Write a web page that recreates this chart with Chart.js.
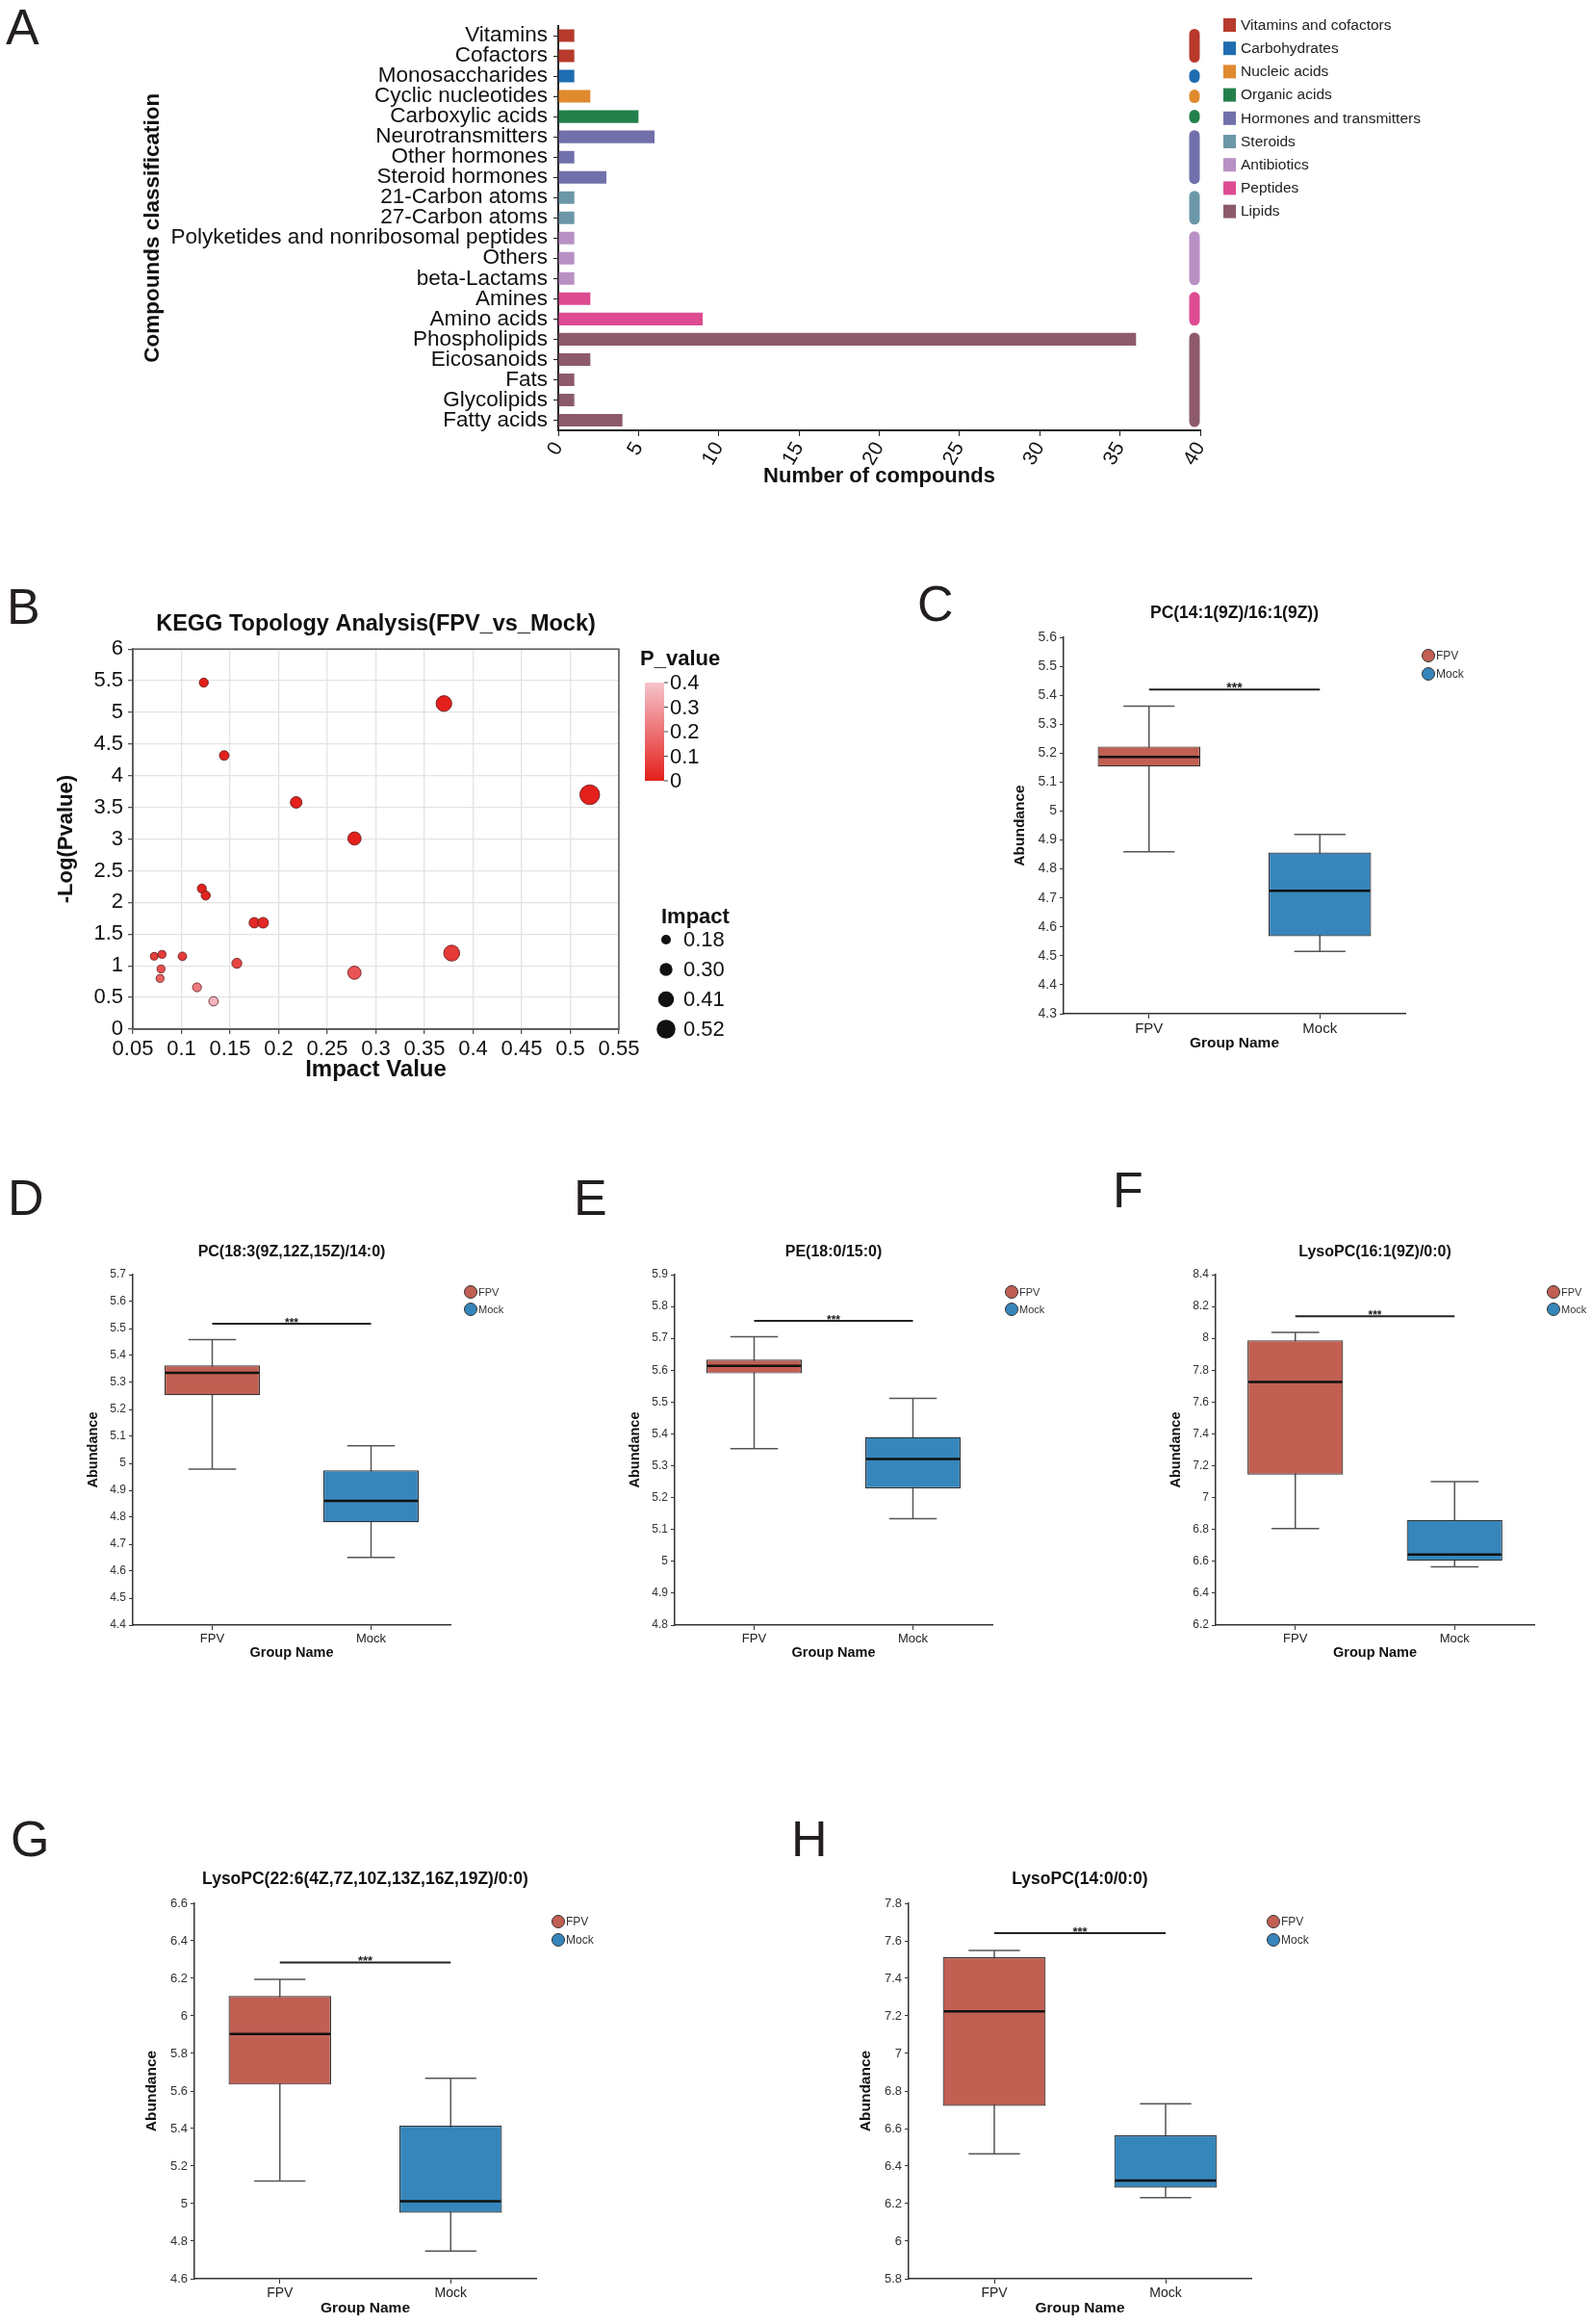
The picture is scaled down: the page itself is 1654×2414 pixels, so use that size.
<!DOCTYPE html>
<html>
<head>
<meta charset="utf-8">
<script src="https://cdn.jsdelivr.net/npm/chart.js@4.4.1/dist/chart.umd.min.js"></script>
<style>
  html, body { margin: 0; padding: 0; background: #fff; }
  #page { position: relative; width: 1654px; height: 2414px; overflow: hidden; background: #fff; }
  #page canvas { position: absolute; }
  .letter { position: absolute; font-family: 'Liberation Sans', Arial, sans-serif; font-size: 52px; line-height: 1; color: #231f20; }
</style>
</head>
<body>
<div id="page">
  <div class="letter" style="left:6px;top:2px">A</div>
  <div class="letter" style="left:7px;top:604px">B</div>
  <div class="letter" style="left:953px;top:601px">C</div>
  <div class="letter" style="left:8px;top:1218px">D</div>
  <div class="letter" style="left:596px;top:1218px">E</div>
  <div class="letter" style="left:1156px;top:1210px">F</div>
  <div class="letter" style="left:11px;top:1884px">G</div>
  <div class="letter" style="left:822px;top:1884px">H</div>

  <canvas id="chartA" width="1654" height="520" style="left:0;top:0"></canvas>
  <canvas id="chartB" width="827" height="560" style="left:0;top:590px"></canvas>
  <canvas id="chartC" width="654" height="510" style="left:1000px;top:600px"></canvas>
  <canvas id="chartD" width="560" height="480" style="left:0;top:1250px"></canvas>
  <canvas id="chartE" width="560" height="480" style="left:560px;top:1250px"></canvas>
  <canvas id="chartF" width="534" height="480" style="left:1120px;top:1250px"></canvas>
  <canvas id="chartG" width="780" height="534" style="left:0;top:1880px"></canvas>
  <canvas id="chartH" width="874" height="534" style="left:780px;top:1880px"></canvas>
</div>
<script>
const FONT = "'Liberation Sans', Arial, Helvetica, sans-serif";

// ---- panel A: compound classes
const categories = ['Vitamins', 'Cofactors', 'Monosaccharides', 'Cyclic nucleotides', 'Carboxylic acids',
  'Neurotransmitters', 'Other hormones', 'Steroid hormones', '21-Carbon atoms', '27-Carbon atoms',
  'Polyketides and nonribosomal peptides', 'Others', 'beta-Lactams', 'Amines', 'Amino acids',
  'Phospholipids', 'Eicosanoids', 'Fats', 'Glycolipids', 'Fatty acids'];
const compoundCounts = [1, 1, 1, 2, 5, 6, 1, 3, 1, 1, 1, 1, 1, 2, 9, 36, 2, 1, 1, 4];
const classNames = ['Vitamins and cofactors', 'Carbohydrates', 'Nucleic acids', 'Organic acids',
  'Hormones and transmitters', 'Steroids', 'Antibiotics', 'Peptides', 'Lipids'];
const classColors = ['#b73a2c', '#1f6db1', '#e08a2f', '#24804b', '#7270ab', '#6b97a8', '#b990c4', '#dd4b91', '#8d5a6c'];
const categoryClass = [0, 0, 1, 2, 3, 4, 4, 4, 5, 5, 6, 6, 6, 7, 7, 8, 8, 8, 8, 8];

// ---- panel B: KEGG topology
const impactValues = [0.123, 0.370, 0.144, 0.520, 0.218, 0.278, 0.121, 0.125, 0.175, 0.184,
  0.072, 0.080, 0.101, 0.079, 0.078, 0.157, 0.378, 0.278, 0.116, 0.133];
const negLogP = [5.47, 5.14, 4.32, 3.70, 3.58, 3.01, 2.22, 2.11, 1.68, 1.68,
  1.15, 1.18, 1.15, 0.95, 0.80, 1.04, 1.20, 0.89, 0.66, 0.44];
const pValues = [0.000003, 0.000007, 0.00005, 0.0002, 0.0003, 0.001, 0.006, 0.008, 0.021, 0.021,
  0.071, 0.066, 0.071, 0.112, 0.158, 0.091, 0.063, 0.129, 0.219, 0.363];
const pLegendTicks = [0.4, 0.3, 0.2, 0.1, 0];
const impactLegend = [0.18, 0.30, 0.41, 0.52];

// ---- panels C-H: box plots, stats = [min, q1, median, q3, max]
const groups = ['FPV', 'Mock'];
const groupColors = ['#c15f53', '#3686bb'];

const titleC = 'PC(14:1(9Z)/16:1(9Z))';
const fpvC = [4.859, 5.154, 5.187, 5.223, 5.362];
const mockC = [4.515, 4.568, 4.725, 4.857, 4.919];
const axisC = [4.3, 5.6, 0.1];
const sigC = 5.42;

const titleD = 'PC(18:3(9Z,12Z,15Z)/14:0)';
const fpvD = [4.979, 5.253, 5.336, 5.363, 5.459];
const mockD = [4.651, 4.781, 4.861, 4.974, 5.065];
const axisD = [4.4, 5.7, 0.1];
const sigD = 5.518;

const titleE = 'PE(18:0/15:0)';
const fpvE = [5.354, 5.590, 5.614, 5.633, 5.705];
const mockE = [5.134, 5.229, 5.321, 5.390, 5.512];
const axisE = [4.8, 5.9, 0.1];
const sigE = 5.755;

const titleF = 'LysoPC(16:1(9Z)/0:0)';
const fpvF = [6.806, 7.145, 7.726, 7.988, 8.037];
const mockF = [6.565, 6.604, 6.642, 6.860, 7.100];
const axisF = [6.2, 8.4, 0.2];
const sigF = 8.138;

const titleG = 'LysoPC(22:6(4Z,7Z,10Z,13Z,16Z,19Z)/0:0)';
const fpvG = [5.120, 5.634, 5.904, 6.106, 6.195];
const mockG = [4.747, 4.951, 5.013, 5.415, 5.668];
const axisG = [4.6, 6.6, 0.2];
const sigG = 6.285;

const titleH = 'LysoPC(14:0/0:0)';
const fpvH = [6.465, 6.721, 7.224, 7.513, 7.549];
const mockH = [6.232, 6.285, 6.323, 6.564, 6.732];
const axisH = [5.8, 7.8, 0.2];
const sigH = 7.641;

Chart.defaults.font.family = FONT;
Chart.defaults.color = '#222';
Chart.defaults.animation = false;
Chart.defaults.responsive = false;
Chart.defaults.plugins.legend.display = false;
Chart.defaults.plugins.tooltip.enabled = false;

const fmt = v => String(parseFloat(Number(v).toFixed(3)));

// ---------------- A ----------------
const classBars = {
  id: 'classBars',
  afterDatasetsDraw(chart) {
    const {ctx, scales: {x, y}} = chart;
    const cx = x.getPixelForValue(40) - 6;
    ctx.save();
    ctx.lineCap = 'round';
    ctx.lineWidth = 11;
    classNames.forEach((name, k) => {
      const idx = [];
      categoryClass.forEach((c, i) => { if (c === k) idx.push(i); });
      const y1 = y.getPixelForValue(idx[0]) - 1.5;
      const y2 = y.getPixelForValue(idx[idx.length - 1]) + 1.5;
      ctx.strokeStyle = classColors[k];
      ctx.beginPath();
      ctx.moveTo(cx, y1);
      ctx.lineTo(cx, y2);
      ctx.stroke();
    });
    // class legend
    ctx.font = '15.5px ' + FONT;
    ctx.textBaseline = 'middle';
    ctx.textAlign = 'left';
    classNames.forEach((name, k) => {
      const ly = 26 + k * 24.2;
      ctx.fillStyle = classColors[k];
      ctx.fillRect(1271, ly - 7, 13, 14);
      ctx.fillStyle = '#222';
      ctx.fillText(name, 1289, ly + 0.5);
    });
    ctx.restore();
  }
};

new Chart(document.getElementById('chartA'), {
  type: 'bar',
  data: {
    labels: categories,
    datasets: [{
      data: compoundCounts,
      backgroundColor: categoryClass.map(c => classColors[c]),
      barPercentage: 0.62,
      categoryPercentage: 1
    }]
  },
  options: {
    indexAxis: 'y',
    layout: { padding: { left: 145, top: 26.5, right: 407, bottom: 0 } },
    scales: {
      x: {
        type: 'linear', min: 0, max: 40,
        ticks: { stepSize: 5, minRotation: 60, maxRotation: 60, font: { size: 21 }, color: '#111', padding: 2 },
        grid: { drawOnChartArea: false, drawTicks: true, tickLength: 6, color: '#222', tickColor: '#222' },
        border: { color: '#222', width: 2 },
        title: { display: true, text: 'Number of compounds', font: { size: 22, weight: 'bold' }, color: '#111', padding: { top: 0, bottom: 12 } },
        afterFit: s => { s.height = 73; }
      },
      y: {
        ticks: { font: { size: 22.5 }, color: '#111', padding: 6, autoSkip: false },
        grid: { drawOnChartArea: false, drawTicks: true, tickLength: 5, offset: false, color: '#222', tickColor: '#222' },
        border: { color: '#222', width: 2 },
        title: { display: true, text: 'Compounds classification', font: { size: 22.5, weight: 'bold' }, color: '#111', padding: { top: 0, bottom: 0 } },
        afterFit: s => { s.width = 435; }
      }
    }
  },
  plugins: [classBars]
});

// ---------------- B ----------------
const lowP = [227, 32, 27], highP = [245, 196, 204];
function pColor(p) {
  const t = Math.min(Math.max(p / 0.4, 0), 1);
  const c = lowP.map((v, i) => Math.round(v + (highP[i] - v) * t));
  return `rgb(${c[0]},${c[1]},${c[2]})`;
}
const bubbleRadius = v => 3 + 14 * v;

const keggExtras = {
  id: 'keggExtras',
  afterDraw(chart) {
    const {ctx, chartArea: a} = chart;
    ctx.save();
    ctx.strokeStyle = '#555';
    ctx.lineWidth = 1.5;
    ctx.strokeRect(a.left, a.top, a.right - a.left, a.bottom - a.top);

    // P_value colour bar
    ctx.fillStyle = '#111';
    ctx.font = 'bold 22px ' + FONT;
    ctx.textBaseline = 'middle';
    ctx.textAlign = 'left';
    ctx.fillText('P_value', 665, 95);
    const top = 119, bot = 221;
    const grad = ctx.createLinearGradient(0, top, 0, bot);
    grad.addColorStop(0, pColor(0.4));
    grad.addColorStop(1, pColor(0));
    ctx.fillStyle = grad;
    ctx.fillRect(670, top, 20, bot - top);
    ctx.font = '22px ' + FONT;
    ctx.strokeStyle = '#444';
    ctx.lineWidth = 1;
    pLegendTicks.forEach(v => {
      const yy = bot - (v / 0.4) * (bot - top);
      ctx.beginPath();
      ctx.moveTo(690, yy);
      ctx.lineTo(694, yy);
      ctx.stroke();
      ctx.fillStyle = '#111';
      ctx.fillText(fmt(v), 696, yy + 1);
    });

    // Impact size legend
    ctx.font = 'bold 22px ' + FONT;
    ctx.fillText('Impact', 687, 363);
    ctx.font = '22px ' + FONT;
    impactLegend.forEach((v, i) => {
      const yy = 386 + i * 31;
      ctx.fillStyle = '#111';
      ctx.beginPath();
      ctx.arc(692, yy, bubbleRadius(v) - 0.5, 0, Math.PI * 2);
      ctx.fill();
      ctx.fillText(v.toFixed(2), 710, yy + 1);
    });
    ctx.restore();
  }
};

new Chart(document.getElementById('chartB'), {
  type: 'bubble',
  data: {
    datasets: [{
      data: impactValues.map((v, i) => ({ x: v, y: negLogP[i], r: bubbleRadius(v) })),
      backgroundColor: pValues.map(pColor),
      borderColor: '#5a1616',
      borderWidth: 0.8
    }]
  },
  options: {
    layout: { padding: { left: 0, right: 184, top: 0, bottom: 0 } },
    plugins: {
      title: {
        display: true, text: 'KEGG Topology Analysis(FPV_vs_Mock)', fullSize: false,
        font: { size: 23.5, weight: 'bold' }, color: '#111', padding: { top: 44.5, bottom: 11.5 }
      }
    },
    scales: {
      x: {
        type: 'linear', min: 0.05, max: 0.55,
        ticks: { stepSize: 0.05, font: { size: 22 }, color: '#111', padding: 3, callback: fmt, maxRotation: 0, autoSkip: false },
        grid: { color: '#e3e3e3', lineWidth: 1.3, tickColor: '#555', tickLength: 5 },
        border: { color: '#555', width: 1.5 },
        title: { display: true, text: 'Impact Value', font: { size: 24, weight: 'bold' }, color: '#111', padding: { top: 0, bottom: 24.6 } },
        afterFit: s => { s.height = 81; }
      },
      y: {
        min: 0, max: 6,
        ticks: { stepSize: 0.5, font: { size: 22 }, color: '#111', padding: 5, callback: fmt },
        grid: { color: '#e3e3e3', lineWidth: 1.3, tickColor: '#555', tickLength: 5 },
        border: { color: '#555', width: 1.5 },
        title: { display: true, text: '-Log(Pvalue)', font: { size: 22, weight: 'bold' }, color: '#111', padding: { top: 55.8, bottom: 0 } },
        afterFit: s => { s.width = 138; }
      }
    }
  },
  plugins: [keggExtras]
});

// ---------------- C-H box plots ----------------
const boxExtras = {
  id: 'boxExtras',
  beforeDatasetsDraw(chart, args, opts) {
    const {ctx, scales: {y}} = chart;
    const meta = chart.getDatasetMeta(0);
    ctx.save();
    ctx.strokeStyle = '#555';
    ctx.lineWidth = 1.5;
    meta.data.forEach((bar, i) => {
      const s = opts.stats[i];
      const half = bar.width / 4;
      ctx.beginPath();
      ctx.moveTo(bar.x, y.getPixelForValue(s[4]));
      ctx.lineTo(bar.x, y.getPixelForValue(s[0]));
      ctx.moveTo(bar.x - half, y.getPixelForValue(s[4]));
      ctx.lineTo(bar.x + half, y.getPixelForValue(s[4]));
      ctx.moveTo(bar.x - half, y.getPixelForValue(s[0]));
      ctx.lineTo(bar.x + half, y.getPixelForValue(s[0]));
      ctx.stroke();
    });
    ctx.restore();
  },
  afterDatasetsDraw(chart, args, opts) {
    const {ctx, scales: {y}} = chart;
    const meta = chart.getDatasetMeta(0);
    ctx.save();
    ctx.strokeStyle = '#111';
    ctx.lineWidth = 2.5;
    meta.data.forEach((bar, i) => {
      const m = y.getPixelForValue(opts.stats[i][2]);
      ctx.beginPath();
      ctx.moveTo(bar.x - bar.width / 2 + 1, m);
      ctx.lineTo(bar.x + bar.width / 2 - 1, m);
      ctx.stroke();
    });
    // significance bracket
    const sy = y.getPixelForValue(opts.sig);
    const x0 = meta.data[0].x, x1 = meta.data[1].x;
    ctx.strokeStyle = '#222';
    ctx.lineWidth = 2;
    ctx.beginPath();
    ctx.moveTo(x0, sy);
    ctx.lineTo(x1, sy);
    ctx.stroke();
    ctx.fillStyle = '#222';
    ctx.font = 'bold ' + opts.sigSize + 'px ' + FONT;
    ctx.textAlign = 'center';
    ctx.textBaseline = 'alphabetic';
    ctx.fillText('***', (x0 + x1) / 2, sy + 3);
    // group legend
    ctx.font = opts.legendSize + 'px ' + FONT;
    ctx.textAlign = 'left';
    ctx.textBaseline = 'middle';
    groups.forEach((g, i) => {
      const ly = opts.legendY + i * opts.legendGap;
      ctx.beginPath();
      ctx.arc(opts.legendX, ly, 6.5, 0, Math.PI * 2);
      ctx.fillStyle = groupColors[i];
      ctx.fill();
      ctx.strokeStyle = '#333';
      ctx.lineWidth = 1;
      ctx.stroke();
      ctx.fillStyle = '#333';
      ctx.fillText(g, opts.legendX + 8, ly + 0.5);
    });
    ctx.restore();
  }
};

function makeBox(id, title, fpv, mock, axis, sig, L) {
  const canvas = document.getElementById(id);
  const W = canvas.width, H = canvas.height;
  const tLH = L.titleSize * 1.2, aLH = L.axisSize * 1.2;
  new Chart(canvas, {
    type: 'bar',
    data: {
      labels: groups,
      datasets: [{
        data: [[fpv[1], fpv[3]], [mock[1], mock[3]]],
        backgroundColor: groupColors,
        borderColor: '#333',
        borderWidth: 1.2,
        borderSkipped: false,
        barPercentage: 0.6,
        categoryPercentage: 1
      }]
    },
    options: {
      layout: { padding: { left: 0, right: W - L.r, top: 0, bottom: 0 } },
      plugins: {
        title: {
          display: true, text: title, fullSize: false,
          font: { size: L.titleSize, weight: 'bold' }, color: '#111',
          padding: { top: L.titleY - tLH / 2, bottom: L.t - L.titleY - tLH / 2 }
        },
        boxExtras: {
          stats: [fpv, mock], sig: sig, sigSize: L.tickSize,
          legendX: L.legendX, legendY: L.legendY, legendGap: L.legendGap, legendSize: L.legendSize
        }
      },
      scales: {
        x: {
          ticks: { font: { size: L.tickSize + 1 }, color: '#222', padding: 2 },
          grid: { drawOnChartArea: false, drawTicks: true, tickLength: 5, offset: false, color: '#333', tickColor: '#333' },
          border: { color: '#333', width: 1.5 },
          title: { display: true, text: 'Group Name', font: { size: L.axisSize, weight: 'bold' }, color: '#111', padding: { top: 0, bottom: H - L.groupY - aLH / 2 } },
          afterFit: s => { s.height = H - L.b; }
        },
        y: {
          min: axis[0], max: axis[1],
          ticks: { stepSize: axis[2], font: { size: L.tickSize }, color: '#333', padding: 3, callback: fmt },
          grid: { drawOnChartArea: false, drawTicks: true, tickLength: 4, color: '#333', tickColor: '#333' },
          border: { color: '#333', width: 1.5 },
          title: { display: true, text: 'Abundance', font: { size: L.axisSize, weight: 'bold' }, color: '#111', padding: { top: L.yTitleX - aLH / 2, bottom: 0 } },
          afterFit: s => { s.width = L.l; }
        }
      }
    },
    plugins: [boxExtras]
  });
}

const smallBox = { t: 74, b: 438, titleY: 51, groupY: 467, titleSize: 16, tickSize: 12, axisSize: 14.5, legendY: 92, legendGap: 18, legendSize: 11 };
const bigBox = { t: 97, b: 487, titleY: 72, groupY: 518, titleSize: 17.5, tickSize: 13, axisSize: 15.5, legendY: 116, legendGap: 19, legendSize: 12 };

makeBox('chartC', titleC, fpvC, mockC, axisC, sigC,
  { l: 105, r: 460, t: 62, b: 453, titleY: 37, groupY: 484, yTitleX: 60, titleSize: 17.5, tickSize: 14, axisSize: 15.5, legendX: 484, legendY: 81, legendGap: 19, legendSize: 12 });
makeBox('chartD', titleD, fpvD, mockD, axisD, sigD, Object.assign({}, smallBox, { l: 138, r: 468, yTitleX: 97, legendX: 489 }));
makeBox('chartE', titleE, fpvE, mockE, axisE, sigE, Object.assign({}, smallBox, { l: 141, r: 471, yTitleX: 100, legendX: 491 }));
makeBox('chartF', titleF, fpvF, mockF, axisF, sigF, Object.assign({}, smallBox, { l: 143, r: 474, yTitleX: 102, legendX: 494 }));
makeBox('chartG', titleG, fpvG, mockG, axisG, sigG, Object.assign({}, bigBox, { l: 202, r: 557, yTitleX: 158, legendX: 580 }));
makeBox('chartH', titleH, fpvH, mockH, axisH, sigH, Object.assign({}, bigBox, { l: 164, r: 520, yTitleX: 120, legendX: 543 }));
</script>
</body>
</html>
